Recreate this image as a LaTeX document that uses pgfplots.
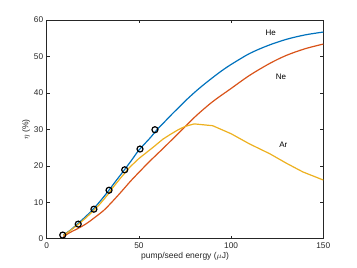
\documentclass[border=0pt]{standalone}
\usepackage{pgfplots}
\pgfplotsset{compat=1.18}
\usepackage{fontspec}
\setmainfont{Liberation Sans}
\definecolor{mblue}{rgb}{0,0.447,0.741}
\definecolor{mred}{rgb}{0.85,0.325,0.098}
\definecolor{myel}{rgb}{0.929,0.694,0.125}
\definecolor{axgray}{rgb}{0.15,0.15,0.15}
\begin{document}
\begin{tikzpicture}
\begin{axis}[
  scale only axis,
  width=276.6pt, height=218.7pt,
  xmin=0, xmax=150, ymin=0, ymax=60,
  xtick={0,50,100,150}, ytick={0,10,20,30,40,50,60},
  tick align=inside, major tick length=3pt,
  axis line style={axgray, line width=0.5pt},
  tick style={axgray, line width=0.5pt},
  every tick label/.append style={font=\fontsize{8.3}{9}\selectfont, text=axgray},
  /pgf/number format/assume math mode=true,
  xlabel={pump/seed energy ($\mu$J)},
  ylabel={$\eta$ (\%)},
  label style={font=\fontsize{8.5}{10}\selectfont, text=axgray},
  xlabel style={yshift=3pt},
  ylabel style={yshift=-3pt},
  clip=true,
]
\addplot[mblue, line width=1.2pt, smooth] coordinates {
 (9,1) (13,2.4) (17,4.2) (21,6.0) (25,8.0) (29,10.3) (33,12.8) (37,15.5) (42,18.8) (46,21.5) (50,24.3) (56,27.6) (60,30.0) (64,32.1) (68,34.2) (72,36.2) (76,38.2) (81,40.5) (85,42.2) (90,44.2) (95,46.1) (100,47.8) (110,50.8) (120,53.0) (130,54.7) (140,55.9) (150,56.7)
};
\addplot[mred, line width=1.2pt, smooth] coordinates {
 (9,0.6) (13,1.8) (17.7,3.0) (22,4.3) (26,5.8) (31,7.8) (36,10.4) (41,13.2) (45.5,15.8) (50,18.2) (56,21.3) (64,25.2) (72,29.2) (81,33.7) (90,37.6) (99.4,41.0) (110,44.8) (121,48.1) (130,50.3) (140,52.1) (150,53.4)
};
\addplot[myel, line width=1.2pt] coordinates {
 (9,0.9) (13,2.3) (17,3.9) (21,5.6) (25,7.5) (29,9.6) (33,12.0) (36,14.1) (40,16.6) (45,19.6) (50,22.0) (54,23.6) (58,25.2) (63,27.3) (67,28.6) (71,29.8) (75,30.8) (80,31.5) (90,31.0) (100,28.8) (110,26.0) (121,23.3) (130,20.7) (139,18.3) (150,16.1)
};
\addplot[only marks, mark=o, mark size=3pt, black, line width=1.2pt] coordinates {
 (8.7,1.0) (17.1,4.0) (25.6,8.1) (33.8,13.3) (42.3,18.9) (50.6,24.6) (58.7,29.9)
};
\node[font=\fontsize{8}{9}\selectfont, text=black] at (axis cs:121.5,56.4) {He};
\node[font=\fontsize{8}{9}\selectfont, text=black] at (axis cs:127,44.3) {Ne};
\node[font=\fontsize{8}{9}\selectfont, text=black] at (axis cs:128.3,25.7) {Ar};
\end{axis}
\path[use as bounding box] (current axis.south west) ++(-46.7pt,-29.3pt) rectangle ++(357pt,268pt);
\end{tikzpicture}
\end{document}
